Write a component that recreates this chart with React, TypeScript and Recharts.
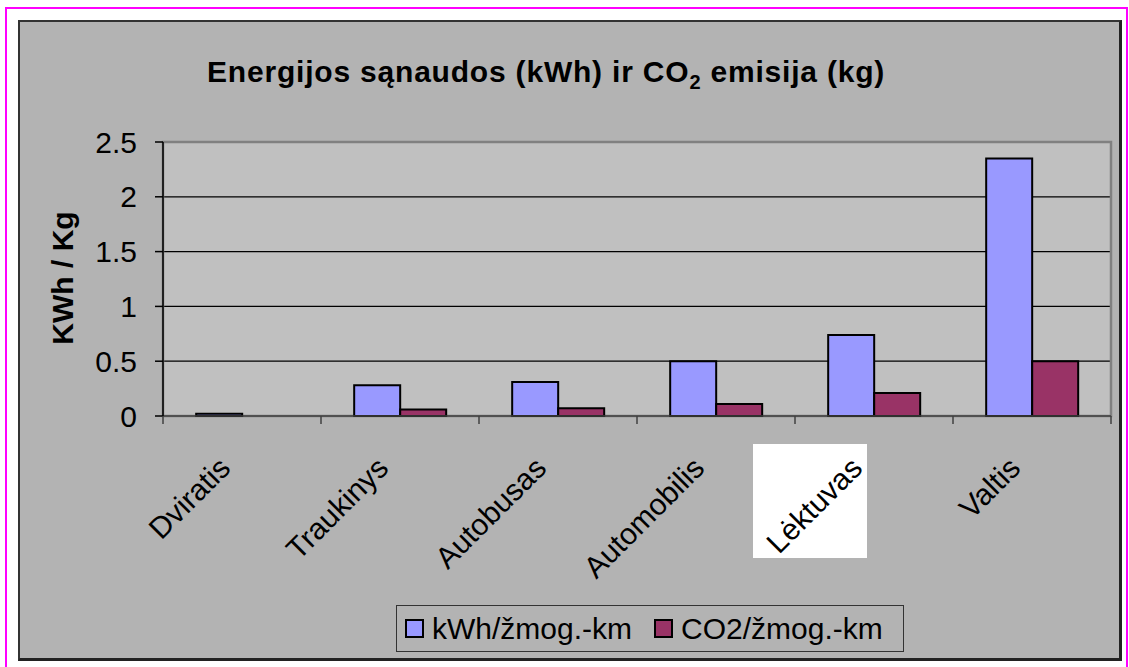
import React from 'react';
import { BarChart, Bar, XAxis, YAxis, CartesianGrid, ReferenceArea } from 'recharts';

const categories = ['Dviratis', 'Traukinys', 'Autobusas', 'Automobilis', 'Lėktuvas', 'Valtis'];
const kwhValues = [0.02, 0.28, 0.31, 0.5, 0.74, 2.35];
const co2Values = [0, 0.06, 0.07, 0.11, 0.21, 0.5];
const yTicks = [0, 0.5, 1, 1.5, 2, 2.5];
const seriesNames = ['kWh/žmog.-km', 'CO2/žmog.-km'];
const seriesColors = ['#9999ff', '#993366'];

const data = categories.map((name, i) => ({ name, kwh: kwhValues[i], co2: co2Values[i] }));

const FONT = '"Liberation Sans", Arial, sans-serif';
const W = 1129;
const H = 667;
const Y_AXIS_W = 60;
const margin = { top: 142, right: 18, left: 103, bottom: 221 };
const BAND = (W - margin.left - Y_AXIS_W - margin.right) / categories.length;

function CategoryTick(props: any) {
  const { x, y, payload, index } = props;
  const label = payload.value as string;
  const px = x - 10;
  const py = y + 54;
  return (
    <g>
      <line x1={x - BAND / 2} y1={y} x2={x - BAND / 2} y2={y + 8} stroke="#404040" strokeWidth={1.5} />
      {index === categories.length - 1 && (
        <line x1={x + BAND / 2} y1={y} x2={x + BAND / 2} y2={y + 8} stroke="#404040" strokeWidth={1.5} />
      )}
      {label === 'Lėktuvas' && <rect x={x - 121} y={y + 28} width={114} height={114} fill="#ffffff" />}
      <text
        x={px}
        y={py}
        transform={`rotate(-45, ${px}, ${py})`}
        textAnchor="end"
        fontSize={30}
        fontFamily={FONT}
        fill="#000"
      >
        {label}
      </text>
    </g>
  );
}

export default function App() {
  return (
    <div style={{ position: 'absolute', left: 0, top: 0, width: W, height: H, background: '#fff', overflow: 'hidden' }}>
      <div
        style={{
          position: 'absolute', left: 5, top: 7, width: 1123, height: 700,
          border: '2px solid #ff00ff', boxSizing: 'border-box',
        }}
      />
      <div
        style={{
          position: 'absolute', left: 18, top: 20, width: 1104, height: 641,
          background: '#b3b3b3', boxSizing: 'border-box',
          border: '2px solid #333', borderRight: '3px solid #222', borderBottom: '3px solid #222',
        }}
      />
      <div style={{ position: 'absolute', left: 0, top: 0 }}>
        <BarChart width={W} height={H} data={data} margin={margin} barCategoryGap="21%" barGap={0}>
          <CartesianGrid vertical={false} fill="#c0c0c0" stroke="#000" strokeWidth={1.2} />
          <ReferenceArea y1={0} y2={2.5} fill="none" stroke="#808080" strokeWidth={2.5} ifOverflow="visible" />
          <XAxis
            dataKey="name"
            height={30}
            tickLine={false}
            tickSize={0}
            tickMargin={0}
            interval={0}
            axisLine={{ stroke: '#404040', strokeWidth: 1.5 }}
            tick={<CategoryTick />}
          />
          <YAxis
            width={Y_AXIS_W}
            domain={[0, 2.5]}
            ticks={yTicks}
            interval={0}
            tickSize={8}
            tickMargin={18}
            axisLine={{ stroke: '#000', strokeWidth: 1.5 }}
            tickLine={{ stroke: '#000', strokeWidth: 1.5 }}
            tick={{ fontSize: 30, fontFamily: FONT, fill: '#000' }}
          />
          <Bar dataKey="kwh" name={seriesNames[0]} fill={seriesColors[0]} stroke="#000" strokeWidth={2} isAnimationActive={false} />
          <Bar dataKey="co2" name={seriesNames[1]} fill={seriesColors[1]} stroke="#000" strokeWidth={2} isAnimationActive={false} />
        </BarChart>
      </div>
      <svg width={W} height={H} style={{ position: 'absolute', left: 0, top: 0, pointerEvents: 'none' }}>
        <text x={207} y={82} fontFamily={FONT} fontWeight="bold" fontSize={30} letterSpacing={0.8} style={{ whiteSpace: 'pre' }}>
          Energijos sąnaudos (kWh) ir CO
          <tspan fontSize={20} dy={7}>2</tspan>
          <tspan dy={-7}>{' emisija (kg)'}</tspan>
        </text>
        <text
          transform="translate(73, 278) rotate(-90)"
          textAnchor="middle"
          fontFamily={FONT}
          fontWeight="bold"
          fontSize={30}
        >
          KWh / Kg
        </text>
      </svg>
      <div
        style={{
          position: 'absolute', left: 396, top: 605, width: 508, height: 47, boxSizing: 'border-box',
          border: '1px solid #333', display: 'flex', alignItems: 'center', paddingLeft: 8,
          fontFamily: FONT, fontSize: 30, color: '#000', whiteSpace: 'nowrap',
        }}
      >
        {seriesNames.map((n, i) => (
          <div key={n} style={{ display: 'flex', alignItems: 'center', marginRight: i === 0 ? 22 : 0 }}>
            <span
              style={{
                display: 'inline-block', width: 19, height: 19, boxSizing: 'border-box',
                border: '2px solid #000', background: seriesColors[i], marginRight: 8,
              }}
            />
            <span>{n}</span>
          </div>
        ))}
      </div>
    </div>
  );
}
